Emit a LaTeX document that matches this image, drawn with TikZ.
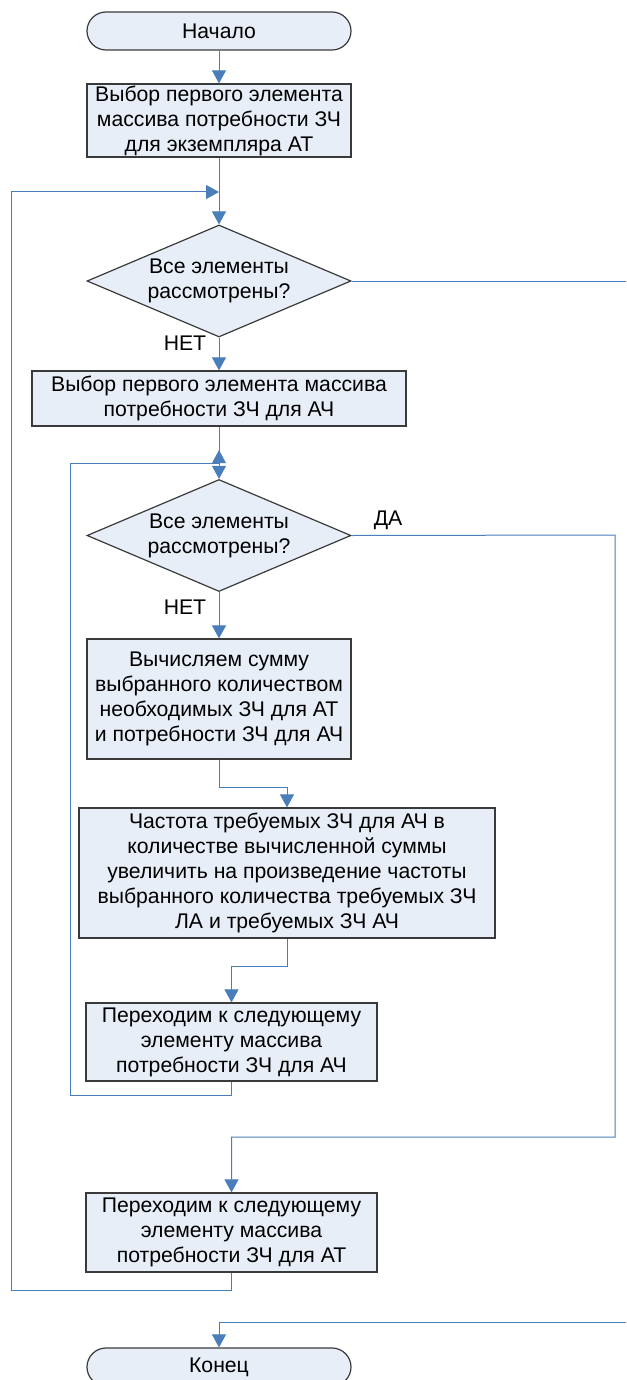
\documentclass[tikz,border=0pt]{standalone}
\usepackage{fontspec}
\setmainfont{Liberation Sans}
\usetikzlibrary{shapes.geometric,arrows.meta}
\definecolor{boxfill}{HTML}{E8EEF7}
\definecolor{boxline}{HTML}{3A3A3A}
\definecolor{conn}{HTML}{4A7EBB}
\begin{document}
\begin{tikzpicture}[x=1pt,y=-1pt,
  every node/.style={font=\fontsize{21.2}{25}\selectfont, align=center, inner sep=0pt},
  block/.style={draw=boxline, fill=boxfill, line width=1.2pt, rectangle},
  term/.style={block, rounded corners=19pt, minimum width=264pt, minimum height=38pt},
  decide/.style={draw=boxline, fill=boxfill, line width=1.2pt, diamond, aspect=2.36,
    minimum width=264pt, minimum height=112pt},
  wire/.style={draw=conn, line width=1pt},
  arr/.style={wire, -{Triangle[length=13pt,width=14pt]}},
  tag/.style={font=\fontsize{21.2}{25}\selectfont}
]
\useasboundingbox (0,0) rectangle (626,1380);
\clip (0,0) rectangle (626,1380);

% shapes
\node[term] (start) at (219,31) {Начало};
\node[block, minimum width=264pt, minimum height=73pt] (b1) at (219,120.5)
  {Выбор первого элемента\\массива потребности ЗЧ\\для экземпляра АТ};
\node[decide] (d1) at (219,281) {Все элементы\\рассмотрены?};
\node[block, minimum width=374pt, minimum height=55pt] (b2) at (219,398.5)
  {Выбор первого элемента массива\\потребности ЗЧ для АЧ};
\node[decide] (d2) at (219,535.5) {Все элементы\\рассмотрены?};
\node[block, minimum width=264pt, minimum height=120pt] (b3) at (219,699)
  {Вычисляем сумму\\выбранного количеством\\необходимых ЗЧ для АТ\\и потребности ЗЧ для АЧ};
\node[block, minimum width=416pt, minimum height=130pt] (b4) at (287,873)
  {Частота требуемых ЗЧ для АЧ в\\количестве вычисленной суммы\\увеличить на произведение частоты\\выбранного количества требуемых ЗЧ\\ЛА и требуемых ЗЧ АЧ};
\node[block, minimum width=291pt, minimum height=78pt] (b4b) at (231.5,1042)
  {Переходим к следующему\\элементу массива\\потребности ЗЧ для АЧ};
\node[block, minimum width=291pt, minimum height=79pt] (b5) at (231.5,1232.5)
  {Переходим к следующему\\элементу массива\\потребности ЗЧ для АТ};
\node[term] (end) at (219,1367) {Конец};

% labels
\node[tag] (no1) at (185,343) {НЕТ};
\node[tag] (no2) at (185,607) {НЕТ};
\node[tag] (yes2) at (388,520) {ДА};

% route points
\coordinate (j1) at (219,192);
\coordinate (j2) at (219,463);
\coordinate (o1) at (11,1290);
\coordinate (o2) at (70,1095);
\coordinate (r1) at (640,281);
\coordinate (r1b) at (640,1322);
\coordinate (r2) at (615,535);
\coordinate (r2b) at (615,1137);
\coordinate (k3) at (219,787);
\coordinate (k4) at (287,966);

% connectors
\draw[arr] (start.south) -- (b1.north);
\draw[arr] (b1.south) -- (d1.north);
\draw[arr] (b5.south) |- (o1) |- (j1);
\draw[arr] (d1.east) -- (r1) -- (r1b) -| (end.north);
\draw[arr] (d1.south) -- (b2.north);
\draw[wire] (b2.south) -- (j2);
\draw[arr] (j2) -- (d2.north);
\fill[conn] (j2) -- ++(-7,0) -- ++(7,-13) -- ++(7,13) -- cycle;
\draw[wire] (b4b.south) |- (o2) |- (j2);
\draw[arr] (d2.east) -- (r2) -- (r2b) -| (b5.north);
\draw[arr] (d2.south) -- (b3.north);
\draw[arr] (b3.south) -- (k3) -| (b4.north);
\draw[arr] (b4.south) |- (k4) -| (b4b.north);
\end{tikzpicture}
\end{document}
